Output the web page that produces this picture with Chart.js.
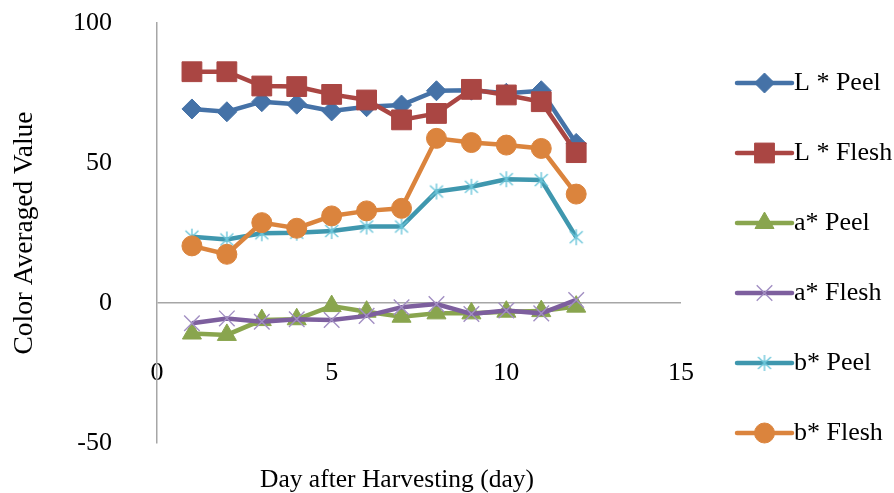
<!DOCTYPE html>
<html>
<head>
<meta charset="utf-8">
<script src="https://cdn.jsdelivr.net/npm/chart.js@4/dist/chart.umd.min.js"></script>
<style>
  html, body { margin: 0; padding: 0; background: #fff; }
  #wrap { width: 894px; height: 493px; }
</style>
</head>
<body>
<div id="wrap"><canvas id="c" width="894" height="493"></canvas></div>
<script>
// Days after harvesting
const days = [1, 2, 3, 4, 5, 6, 7, 8, 9, 10, 11, 12];

// Averaged colour readings per day
const lPeel  = [69.3, 68.3, 71.9, 71.0, 68.6, 70.1, 70.7, 75.8, 76.0, 74.9, 75.8, 57.0];
const lFlesh = [82.6, 82.6, 77.5, 77.3, 74.5, 72.5, 65.4, 67.7, 76.3, 74.3, 71.9, 53.7];
const aPeel  = [-10.9, -11.4, -6.1, -5.8, -1.1, -3.1, -4.9, -3.7, -3.7, -3.1, -2.9, -1.3];
const aFlesh = [-7.2, -5.5, -6.7, -5.8, -6.1, -4.6, -1.5, -0.4, -3.9, -2.7, -3.7, 1.1];
const bPeel  = [23.7, 22.7, 24.9, 25.1, 25.7, 27.3, 27.3, 39.8, 41.5, 44.2, 43.9, 23.5];
const bFlesh = [20.4, 17.4, 28.7, 26.7, 31.1, 32.9, 33.8, 58.8, 57.3, 56.4, 55.2, 38.9];

// Axis ticks
const xTicks = [0, 5, 10, 15];
const yTicks = [-50, 0, 50, 100];

const seriesNames = ['L * Peel', 'L * Flesh', 'a* Peel', 'a* Flesh', 'b* Peel', 'b* Flesh'];
const seriesValues = [lPeel, lFlesh, aPeel, aFlesh, bPeel, bFlesh];

const SERIF = "'Liberation Serif', 'Times New Roman', serif";

// asterisk marker: vertical stroke plus a diagonal cross
function asterisk(color) {
  const s = 20, c = document.createElement('canvas');
  c.width = s; c.height = s;
  const g = c.getContext('2d');
  g.strokeStyle = color; g.lineWidth = 1.4;
  g.beginPath();
  g.moveTo(10, 2); g.lineTo(10, 18);
  g.moveTo(3.5, 4); g.lineTo(16.5, 16);
  g.moveTo(16.5, 4); g.lineTo(3.5, 16);
  g.stroke();
  return c;
}

const styles = [
  { line: '#4572A7', fill: '#4572A7', border: '#4572A7', point: 'rectRot', radius: 10, bw: 1 },
  { line: '#AA4643', fill: '#AA4643', border: '#AA4643', point: 'rect', radius: 14, bw: 1 },
  { line: '#89A54E', fill: '#89A54E', border: '#89A54E', point: 'triangle', radius: 11, bw: 1 },
  { line: '#7D5F9E', fill: 'rgba(0,0,0,0)', border: '#A28FC3', point: 'crossRot', radius: 11, bw: 1.4 },
  { line: '#3F97AE', fill: '#6CC6DA', border: '#6CC6DA', point: asterisk('#6CC6DA'), radius: 10, bw: 1.4 },
  { line: '#DB843D', fill: '#DB843D', border: '#DB843D', point: 'circle', radius: 10, bw: 1 }
];

const datasets = seriesValues.map((vals, i) => ({
  label: seriesNames[i],
  data: days.map((d, k) => ({ x: d, y: vals[k] })),
  borderColor: styles[i].line,
  borderWidth: 4.5,
  backgroundColor: styles[i].fill,
  pointStyle: styles[i].point,
  pointRadius: styles[i].radius,
  pointBackgroundColor: styles[i].fill,
  pointBorderColor: styles[i].border,
  pointBorderWidth: styles[i].bw,
  tension: 0,
  order: seriesValues.length - i
}));

// legend on the right: line segment with marker, then the series name
const sideLegend = {
  id: 'sideLegend',
  afterLayout(chart) {
    // the axis caption sits a little left of the plot centre
    const s = chart.scales.x2;
    s.right -= 44;
    s.width -= 44;
  },
  afterDraw(chart) {
    const ctx = chart.ctx;
    const x0 = chart.chartArea.right + 56, x1 = x0 + 55, xm = (x0 + x1) / 2;
    chart.data.datasets.forEach((ds, i) => {
      const y = 83 + i * 70;
      ctx.save();
      ctx.strokeStyle = ds.borderColor;
      ctx.lineWidth = 4.5;
      ctx.lineCap = 'round';
      ctx.beginPath(); ctx.moveTo(x0, y); ctx.lineTo(x1, y); ctx.stroke();
      ctx.fillStyle = ds.pointBackgroundColor;
      ctx.strokeStyle = ds.pointBorderColor;
      ctx.lineWidth = ds.pointBorderWidth;
      ctx.lineCap = 'butt';
      Chart.helpers.drawPoint(ctx, { pointStyle: ds.pointStyle, radius: ds.pointRadius, borderWidth: ds.pointBorderWidth, rotation: 0 }, xm, y);
      ctx.fillStyle = '#000';
      ctx.font = '26px ' + SERIF;
      ctx.textAlign = 'left';
      ctx.textBaseline = 'middle';
      ctx.fillText(ds.label, x1 + 2, y);
      ctx.restore();
    });
  }
};

new Chart(document.getElementById('c'), {
  type: 'line',
  data: { datasets },
  plugins: [sideLegend],
  options: {
    responsive: false,
    animation: false,
    events: [],
    layout: { padding: { top: 23, right: 213, left: 0, bottom: 0 } },
    plugins: { legend: { display: false }, tooltip: { enabled: false } },
    scales: {
      x: {
        type: 'linear',
        min: 0, max: 15,
        position: { y: -20 },
        afterBuildTicks(scale) { scale.ticks = xTicks.map(v => ({ value: v })); },
        afterFit(scale) { scale.height = 0; },
        grid: { display: false, drawTicks: false },
        border: { display: false },
        ticks: { padding: 1.5, color: '#000', font: { family: SERIF, size: 26, lineHeight: 1 } }
      },
      x2: {
        type: 'linear',
        axis: 'x',
        min: 0, max: 15,
        position: 'bottom',
        afterFit(scale) { scale.height = 50; },
        grid: { display: false, drawTicks: false },
        border: { display: false },
        ticks: { display: false },
        title: {
          display: true,
          text: 'Day after Harvesting (day)',
          color: '#000',
          font: { family: SERIF, size: 25.5, lineHeight: 1 },
          padding: { top: 0, bottom: 0 }
        }
      },
      y: {
        min: -50, max: 100,
        afterBuildTicks(scale) { scale.ticks = yTicks.map(v => ({ value: v })); },
        afterFit(scale) { scale.width = 157; },
        grid: {
          drawTicks: true,
          tickLength: 45,
          tickColor: 'rgba(0,0,0,0)',
          color: ctx => (ctx.tick && ctx.tick.value === 0 ? '#A6A6A6' : 'rgba(0,0,0,0)'),
          lineWidth: 1.5
        },
        border: { color: '#A6A6A6', width: 1.5 },
        ticks: { padding: 0, color: '#000', font: { family: SERIF, size: 26 } },
        title: {
          display: true,
          text: 'Color Averaged Value',
          color: '#000',
          font: { family: SERIF, size: 27.4, lineHeight: 1 },
          padding: { top: 11, bottom: 0 }
        }
      }
    }
  }
});
</script>
</body>
</html>
